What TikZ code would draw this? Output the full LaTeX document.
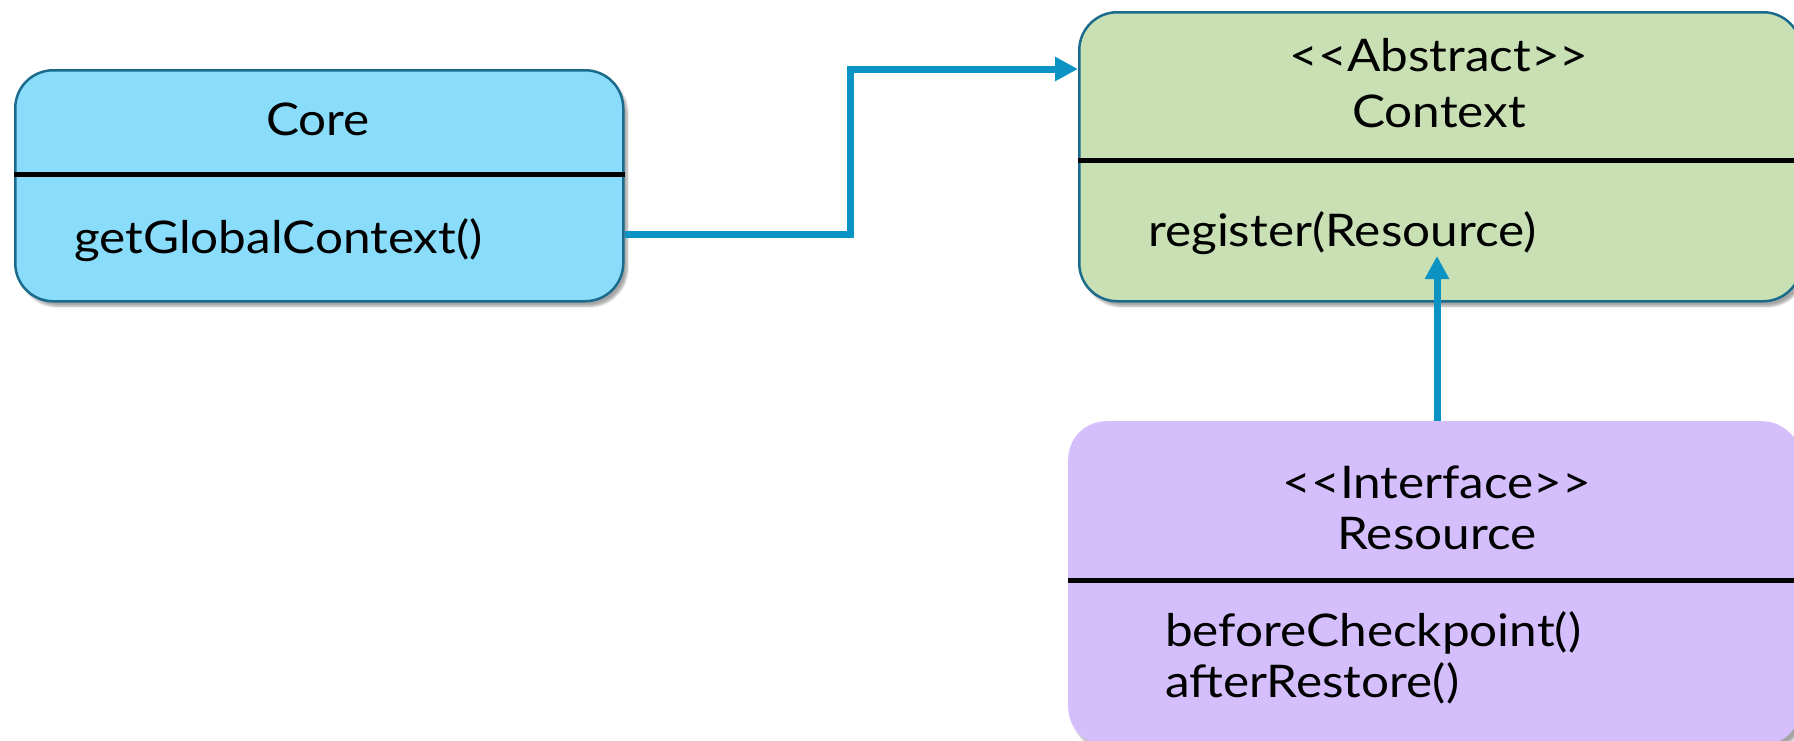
\documentclass[tikz,border=0pt]{standalone}
\usepackage{fontspec}
\setmainfont{Lato}[FakeStretch=1.1]
\usetikzlibrary{arrows.meta,shadows.blur}

\definecolor{corefill}{HTML}{89DDFA}
\definecolor{contextfill}{HTML}{C8E0B4}
\definecolor{resourcefill}{HTML}{D4BFFC}
\definecolor{boxborder}{HTML}{1B6B8C}
\definecolor{linkblue}{HTML}{0A93C3}

\tikzset{
    umlbox/.style={anchor=north west, inner sep=0pt, rounded corners=38pt,
        blur shadow={shadow xshift=4pt, shadow yshift=-5pt, shadow blur steps=8, shadow opacity=35}},
    divider/.style={line width=5pt, black},
    title/.style={anchor=base, inner sep=0pt, font=\fontsize{45}{50}\selectfont},
    member/.style={anchor=base west, inner sep=0pt, font=\fontsize{45}{50}\selectfont},
    link/.style={draw=linkblue, line width=7pt, -{Triangle[length=23pt,width=23pt]}}
}
\newcommand{\stereo}[1]{<\kern0pt<#1>\kern0pt>}

\begin{document}
\begin{tikzpicture}[x=1pt, y=-1pt]
    \useasboundingbox (0,0) rectangle (1794,740);
    \begin{scope}
    \clip (0,0) rectangle (1794,740);

    % Core
    \node[umlbox, draw=boxborder, line width=2.5pt, fill=corefill,
        minimum width=608pt, minimum height=231pt] (core) at (14,69) {};
    \draw[divider] (core.west |- 0,174) -- (core.east |- 0,174);
    \node[title] (coreName) at (318,135) {Core};
    \node[member] (coreOps) at (74,253) {getGlobalContext()};

    % Context
    \node[umlbox, draw=boxborder, line width=2.5pt, fill=contextfill,
        minimum width=722pt, minimum height=289pt] (context) at (1078,11) {};
    \draw[divider] (context.west |- 0,160) -- (context.east |- 0,160);
    \node[title] (ctxStereo) at (1439,71) {\stereo{Abstract}};
    \node[title] (ctxName) at (1439,127) {Context};
    \node[member] (ctxOps) at (1148,246) {register(Resource)};

    % Resource
    \node[umlbox, fill=resourcefill,
        minimum width=732pt, minimum height=324pt] (resource) at (1068,421) {};
    \draw[divider] (resource.west |- 0,580) -- (resource.east |- 0,580);
    \node[title] (resStereo) at (1437,498) {\stereo{Interface}};
    \node[title] (resName) at (1437,549) {Resource};
    \node[member] (resOps) at (1165,646) {beforeCheckpoint()};
    \node[member] (resOps2) at (1165,697) {afterRestore()};

    % links
    \coordinate (elbow) at (850,69);
    \coordinate (regTip) at (1437,256);
    \draw[link] (core.east |- 0,234) -| (elbow) -- (context.west |- elbow);
    \draw[link] (regTip |- resource.north) -- (regTip);
    \end{scope}
\end{tikzpicture}
\end{document}
